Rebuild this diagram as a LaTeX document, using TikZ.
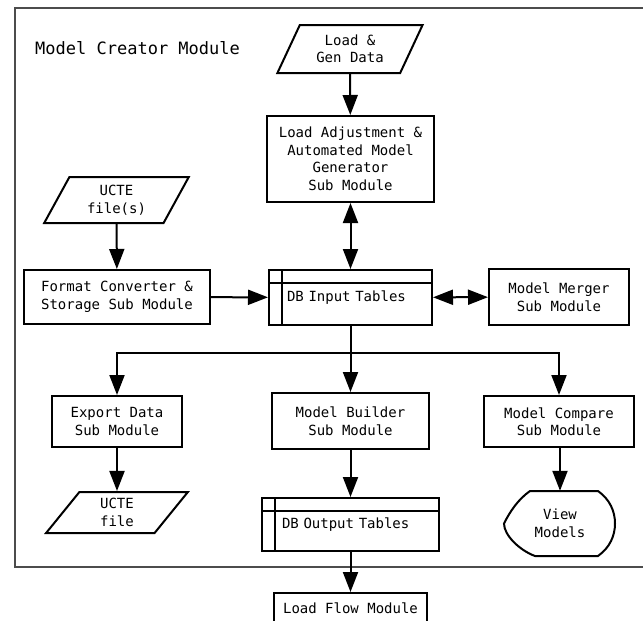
\documentclass[tikz,border=0pt]{standalone}
\usepackage{fontspec}
\setmainfont{DejaVu Sans Mono}
\usetikzlibrary{arrows.meta,shapes.geometric,calc}
\begin{document}
\begin{tikzpicture}[x=1pt,y=-1pt,
  every node/.style={font=\fontsize{14}{17.5}\selectfont},
  box/.style={draw,line width=2pt,rectangle,align=center,inner sep=0pt},
  para/.style={draw,line width=2pt,trapezium,trapezium left angle=62,trapezium right angle=118,trapezium stretches=true,align=center,inner sep=0pt},
  dbtab/.style={draw,line width=2pt,rectangle,align=left,inner ysep=0pt,
    path picture={
      \draw[line width=2pt] ([yshift=-13pt]path picture bounding box.north west) -- ([yshift=-13pt]path picture bounding box.north east);
      \draw[line width=2pt] ([xshift=13pt]path picture bounding box.north west) -- ([xshift=13pt]path picture bounding box.south west);}},
  arr/.style={line width=2pt,-{Triangle[length=20pt,width=15pt]}},
  darr/.style={line width=2pt,{Triangle[length=20pt,width=15pt]}-{Triangle[length=20pt,width=15pt]}},
  framestyle/.style={draw=black!70,line width=1.3pt}
]
\useasboundingbox (0,0) rectangle (643,621);
\draw[framestyle] (15,8) rectangle (660,567);

\node[anchor=west,inner sep=0pt,font=\fontsize{17}{20}\selectfont] (title) at (35,48) {Model Creator Module};

\node[para,minimum width=146pt,minimum height=48pt] (load) at (350,49) {Load \&\\Gen Data};
\node[box,minimum width=167pt,minimum height=86pt] (adj) at (350.5,159) {Load Adjustment \&\\Automated Model\\Generator\\Sub Module};
\node[para,minimum width=145pt,minimum height=46pt] (ucte) at (116.5,200) {UCTE\\file(s)};
\node[box,minimum width=186pt,minimum height=54pt] (conv) at (117,297) {Format Converter \&\\Storage Sub Module};
\node[dbtab,text width=127pt,inner xsep=18pt,minimum height=55pt] (dbin) at (350.5,297.5) {DB Input Tables};
\node[box,minimum width=140pt,minimum height=56pt] (merger) at (559,297) {Model Merger\\Sub Module};

\coordinate (jn) at (351,353);

\node[box,minimum width=130pt,minimum height=51pt] (export) at (117,421.5) {Export Data\\Sub Module};
\node[box,minimum width=157pt,minimum height=56pt] (builder) at (350.5,421) {Model Builder\\Sub Module};
\node[box,minimum width=150pt,minimum height=51pt] (compare) at (559,421.5) {Model Compare\\Sub Module};

\node[para,minimum width=142pt,minimum height=41pt] (uctef) at (117,512.5) {UCTE\\file};
\node[dbtab,text width=137pt,inner xsep=20pt,minimum height=53pt] (dbout) at (350.5,524.5) {DB Output Tables};
\node[inner sep=0pt,minimum width=111pt,minimum height=65pt,align=center] (view) at (560,523.5) {View\\Models};
\draw[line width=2pt,shift={(view.center)}] (-30,-32.5) -- (38,-32.5)
  .. controls (50,-24) and (55,-12) .. (55,0)
  .. controls (55,12) and (50,24) .. (38,32.5)
  -- (-25,32.5)
  .. controls (-40,27) and (-56,12) .. (-56,0)
  .. controls (-50,-12) and (-42,-24) .. (-30,-32.5) -- cycle;

\node[box,minimum width=153pt,minimum height=30pt] (lflow) at (350.5,608) {Load Flow Module};

% connectors
\draw[arr] (load) -- (adj);
\draw[darr] (adj) -- (dbin);
\draw[arr] (ucte) -- (conv);
\draw[arr] (conv) -- (dbin);
\draw[darr] (dbin) -- (merger);
\draw[arr] (dbin) -- (builder);
\draw[arr] (jn) -| (export);
\draw[arr] (jn) -| (compare);
\draw[arr] (export) -- (uctef);
\draw[arr] (builder) -- (dbout);
\draw[arr] (compare.south -| view.north) -- (view.north);
\draw[arr] (dbout) -- (lflow);
\end{tikzpicture}
\end{document}
